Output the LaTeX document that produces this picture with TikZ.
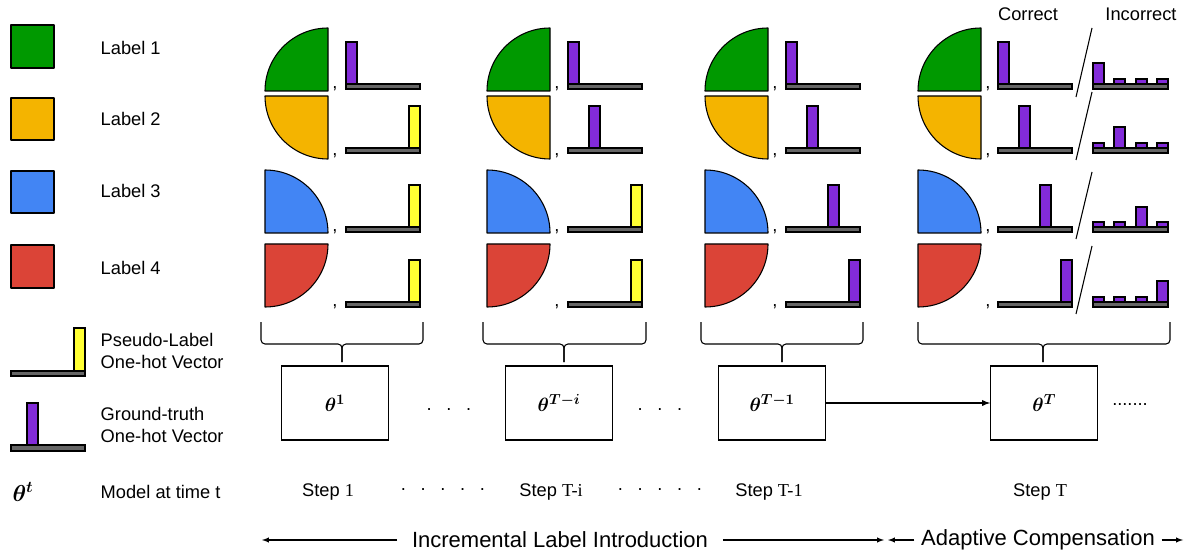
\documentclass[tikz,border=0pt]{standalone}
\usepackage{amsmath}
\usepackage{fontspec}
\setmainfont{Liberation Sans}
\newfontfamily\numfont{Liberation Serif}
\usetikzlibrary{positioning}
\definecolor{lgreen}{HTML}{009900}
\definecolor{lyellow}{HTML}{F4B400}
\definecolor{lblue}{HTML}{4285F4}
\definecolor{lred}{HTML}{DB4437}
\definecolor{gtpurple}{HTML}{822BD9}
\definecolor{plyellow}{HTML}{FFFF33}
\definecolor{basegray}{HTML}{666666}
\tikzstyle{pie edge}=[draw=black,line width=0.8pt,line join=round]
\tikzstyle{bar base}=[draw=black,fill=basegray,line width=0.8pt]
\tikzstyle{hot bar}=[draw=black,line width=0.8pt]
\tikzstyle{legend text}=[anchor=west,align=left,font=\fontsize{13.7}{17.2}\selectfont]
\tikzstyle{step text}=[font=\fontsize{13.7}{16.5}\selectfont]
\tikzstyle{model box}=[draw,line width=0.8pt,minimum width=80.25pt,minimum height=55.5pt,font=\fontsize{15}{18}\selectfont\boldmath]
\tikzstyle{phase text}=[font=\fontsize{16.5}{20}\selectfont]
\tikzstyle{brace line}=[line width=0.8pt,rounded corners=3pt]
% four labelled quarters, #1 = x of the split
\newcommand{\quarters}[1]{
  \draw[pie edge,fill=lgreen] (#1,91) -- (#1-63,91) arc[start angle=180,end angle=270,radius=63] -- cycle;
  \draw[pie edge,fill=lyellow] (#1,96) -- (#1-63,96) arc[start angle=180,end angle=90,radius=63] -- cycle;
  \draw[pie edge,fill=lblue] (#1-63,233) -- (#1,233) arc[start angle=0,end angle=-90,radius=63] -- cycle;
  \draw[pie edge,fill=lred] (#1-63,244) -- (#1,244) arc[start angle=0,end angle=90,radius=63] -- cycle;
}
% commas after the quarters, #2 = name prefix
\newcommand{\commas}[2]{
  \node[step text,anchor=base,inner sep=0pt] (#2a) at (#1+7,89) {,};
  \node[step text,anchor=base,inner sep=0pt] (#2b) at (#1+7,156) {,};
  \node[step text,anchor=base,inner sep=0pt] (#2c) at (#1+7,232) {,};
  \node[step text,anchor=base,inner sep=0pt] (#2d) at (#1+7,306) {,};
}
% one-hot vector: x, top of base, slot, colour
\newcommand{\onehot}[4]{
  \draw[bar base] (#1,#2) rectangle ++(74,5);
  \draw[hot bar,fill=#4] (#1+#3*21,#2) rectangle ++(11,-42);
}
% spread prediction: x, top of base, four heights
\newcommand{\softbars}[6]{
  \draw[bar base] (#1,#2) rectangle ++(75,5);
  \draw[hot bar,fill=gtpurple] (#1,#2) rectangle ++(11,-#3);
  \draw[hot bar,fill=gtpurple] (#1+21,#2) rectangle ++(11,-#4);
  \draw[hot bar,fill=gtpurple] (#1+43,#2) rectangle ++(11,-#5);
  \draw[hot bar,fill=gtpurple] (#1+64,#2) rectangle ++(11,-#6);
}
% brace over a group: left, right, middle
\newcommand{\groupbrace}[3]{
  \draw[brace line] (#1,322) -- (#1,344) -- (#3,344) -- (#3,362);
  \draw[brace line] (#2,322) -- (#2,344) -- (#3,344) -- (#3,362);
}

\begin{document}
\begin{tikzpicture}[x=0.75pt,y=-0.75pt]
\useasboundingbox (0,0) rectangle (1188,552);

% legend
\draw[pie edge,fill=lgreen] (11,25) rectangle (54,68);
\draw[pie edge,fill=lyellow] (11,98) rectangle (54,140);
\draw[pie edge,fill=lblue] (11,171) rectangle (54,213);
\draw[pie edge,fill=lred] (11,245) rectangle (54,288);
\node[legend text] (lab1) at (96,48) {Label 1};
\node[legend text] (lab2) at (96,119) {Label 2};
\node[legend text] (lab3) at (96,191) {Label 3};
\node[legend text] (lab4) at (96,268) {Label 4};
\draw[bar base] (11,371) rectangle (85,376);
\draw[hot bar,fill=plyellow] (74,371) rectangle (85,328);
\node[legend text] (pseudo) at (96,351) {Pseudo-Label\\One-hot Vector};
\draw[bar base] (11,445) rectangle (85,451);
\draw[hot bar,fill=gtpurple] (27,445) rectangle (38,403);
\node[legend text] (truth) at (96,425) {Ground-truth\\One-hot Vector};
\node[font=\fontsize{18}{20}\selectfont\boldmath] (thetat) at (23,492) {$\theta^t$};
\node[legend text] (model) at (96,492) {Model at time t};

% label groups
\quarters{328}
\quarters{550}
\quarters{768}
\quarters{981}
\commas{328}{ca}
\commas{550}{cb}
\commas{768}{cc}
\commas{981}{cd}

\onehot{346}{84}{0}{gtpurple}
\onehot{346}{148}{3}{plyellow}
\onehot{346}{227}{3}{plyellow}
\onehot{346}{302}{3}{plyellow}

\onehot{568}{84}{0}{gtpurple}
\onehot{568}{148}{1}{gtpurple}
\onehot{568}{227}{3}{plyellow}
\onehot{568}{302}{3}{plyellow}

\onehot{786}{84}{0}{gtpurple}
\onehot{786}{148}{1}{gtpurple}
\onehot{786}{227}{2}{gtpurple}
\onehot{786}{302}{3}{gtpurple}

\onehot{998}{84}{0}{gtpurple}
\onehot{998}{148}{1}{gtpurple}
\onehot{998}{227}{2}{gtpurple}
\onehot{998}{302}{3}{gtpurple}

\draw[line width=0.8pt] (1076,97) -- (1092,28);
\draw[line width=0.8pt] (1076,160) -- (1092,92);
\draw[line width=0.8pt] (1076,239) -- (1092,172);
\draw[line width=0.8pt] (1076,314) -- (1092,246);

\softbars{1093}{84}{21}{5}{5}{5}
\softbars{1093}{148}{5}{21}{5}{5}
\softbars{1093}{227}{5}{5}{20}{5}
\softbars{1093}{302}{5}{5}{5}{21}

\node[step text] (correct) at (1028,14) {Correct};
\node[step text] (incorrect) at (1141,14) {Incorrect};

% models
\groupbrace{261}{423}{342}
\groupbrace{483}{646}{564}
\groupbrace{701}{863}{782}
\groupbrace{918}{1170}{1043}

\node[model box] (m1) at (335,403) {$\theta^1$};
\node[model box,right=87pt of m1] (m2) {$\theta^{T-i}$};
\node[model box,right=78.75pt of m2] (m3) {$\theta^{T-1}$};
\node[model box,right=123pt of m3] (m4) {$\theta^{T}$};
\draw[-latex,line width=1.1pt] (m3) -- (m4);

\node[step text] (dots1) at (449,410) {.\hspace{11pt}.\hspace{11pt}.};
\node[step text] (dots2) at (660,410) {.\hspace{11pt}.\hspace{11pt}.};
\node[step text] (more) at (1130,405) {.......};

\node[step text] (s1) at (328,492) {Step {\numfont 1}};
\node[step text] (s2) at (551,492) {Step {\numfont T-i}};
\node[step text] (s3) at (769,492) {Step {\numfont T-1}};
\node[step text] (s4) at (1040,492) {Step {\numfont T}};
\node[step text] (sdots1) at (443,490) {.\hspace{11pt}.\hspace{11pt}.\hspace{11pt}.\hspace{11pt}.};
\node[step text] (sdots2) at (660,490) {.\hspace{11pt}.\hspace{11pt}.\hspace{11pt}.\hspace{11pt}.};

% phases
\node[phase text,inner xsep=11pt] (intro) at (560,540) {Incremental Label Introduction};
\node[phase text,inner xsep=5pt] (adapt) at (1038,540) {Adaptive Compensation};
\coordinate (introL) at (262,540);
\coordinate (introR) at (884,540);
\coordinate (adaptL) at (888,540);
\coordinate (adaptR) at (1183,540);
\draw[-latex,line width=0.8pt] (intro.west) -- (introL);
\draw[-latex,line width=0.8pt] (intro.east) -- (introR);
\draw[-latex,line width=0.8pt] (adapt.west) -- (adaptL);
\draw[-latex,line width=0.8pt] (adapt.east) -- (adaptR);
\end{tikzpicture}
\end{document}
